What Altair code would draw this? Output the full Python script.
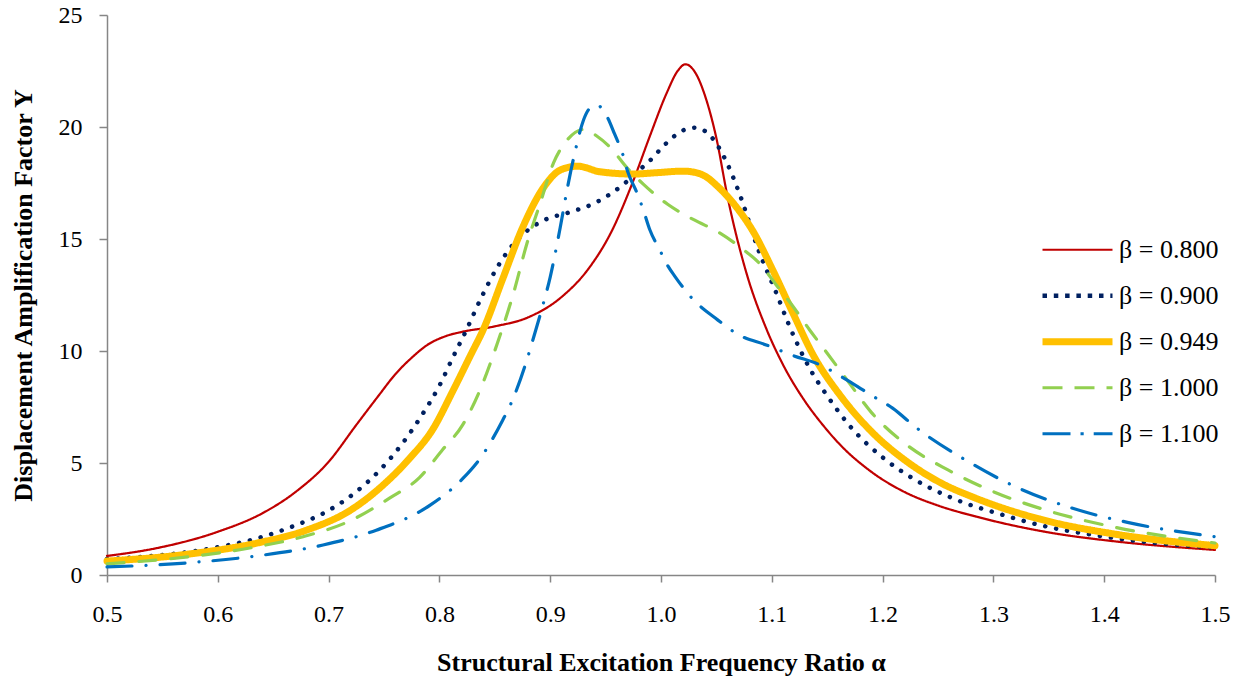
import altair as alt
import pandas as pd

series_names = ["β = 0.800", "β = 0.900", "β = 0.949", "β = 1.000", "β = 1.100"]
colors = ["#C00000", "#002060", "#FFC000", "#92D050", "#0070C0"]
line_widths = [2.2, 4.5, 7, 3.2, 3.2]
line_dashes = [[1, 0], [0.1, 11], [1, 0], [17, 15], [25, 14, 0.1, 14]]
legend_dashes = [[1, 0], [4.5, 6.8], [1, 0], [20, 12], [28, 10, 3.2, 10]]

x_r = [0.50, 0.545, 0.60, 0.64, 0.67, 0.70, 0.725, 0.745, 0.76, 0.775, 0.79, 0.805, 0.82, 0.85, 0.88, 0.91, 0.935, 0.955, 0.975, 0.99, 1.005, 1.015, 1.022, 1.03, 1.041, 1.05, 1.06, 1.077, 1.095, 1.11, 1.13, 1.146, 1.16, 1.19, 1.22, 1.25, 1.285, 1.35, 1.41, 1.5]
y_r = [0.85, 1.2, 1.93, 2.75, 3.7, 5.05, 6.7, 8.0, 8.95, 9.7, 10.3, 10.65, 10.85, 11.1, 11.5, 12.4, 13.7, 15.3, 17.6, 19.6, 21.5, 22.5, 22.8, 22.5, 21.2, 19.5, 16.9, 13.5, 11.0, 9.4, 7.75, 6.7, 5.9, 4.6, 3.7, 3.1, 2.6, 1.9, 1.5, 1.12]

x_n = [0.50, 0.575, 0.605, 0.636, 0.667, 0.697, 0.723, 0.747, 0.767, 0.785, 0.80, 0.812, 0.824, 0.838, 0.853, 0.865, 0.88, 0.895, 0.918, 0.94, 0.957, 0.97, 0.981, 0.99, 1.004, 1.02, 1.031, 1.048, 1.059, 1.071, 1.088, 1.104, 1.116, 1.134, 1.152, 1.171, 1.2, 1.228, 1.265, 1.306, 1.348, 1.39, 1.44, 1.5]
y_n = [0.71, 1.04, 1.29, 1.64, 2.16, 2.8, 3.64, 4.72, 5.9, 7.2, 8.45, 9.7, 10.9, 12.4, 13.8, 14.66, 15.4, 15.85, 16.2, 16.6, 17.1, 17.6, 18.1, 18.5, 19.24, 19.85, 19.97, 19.4, 18.45, 17.0, 14.5, 12.6, 11.1, 9.24, 7.86, 6.62, 5.25, 4.29, 3.39, 2.72, 2.16, 1.79, 1.46, 1.22]

x_y = [0.50, 0.575, 0.635, 0.68, 0.72, 0.75, 0.773, 0.794, 0.812, 0.828, 0.84, 0.857, 0.875, 0.894, 0.91, 0.925, 0.945, 0.975, 0.996, 1.02, 1.03, 1.04, 1.05, 1.06, 1.07, 1.083, 1.101, 1.119, 1.137, 1.162, 1.19, 1.222, 1.253, 1.284, 1.347, 1.409, 1.5]
y_y = [0.62, 0.94, 1.42, 2.0, 2.9, 4.05, 5.2, 6.5, 8.2, 9.8, 11.0, 13.2, 15.5, 17.3, 18.1, 18.25, 18.0, 17.9, 17.96, 18.03, 17.98, 17.8, 17.4, 16.9, 16.3, 15.35, 13.6, 11.7, 9.85, 8.0, 6.4, 5.06, 4.1, 3.43, 2.43, 1.83, 1.31]

x_g = [0.50, 0.575, 0.635, 0.677, 0.719, 0.755, 0.782, 0.803, 0.821, 0.837, 0.852, 0.867, 0.879, 0.891, 0.903, 0.915, 0.931, 0.942, 0.954, 0.969, 0.984, 1.006, 1.03, 1.052, 1.071, 1.09, 1.104, 1.119, 1.134, 1.15, 1.168, 1.19, 1.222, 1.259, 1.3, 1.347, 1.409, 1.5]
y_g = [0.5, 0.82, 1.26, 1.71, 2.41, 3.43, 4.35, 5.6, 6.7, 8.3, 10.3, 12.6, 14.8, 16.6, 18.4, 19.4, 19.9, 19.6, 19.1, 18.2, 17.45, 16.55, 15.85, 15.3, 14.65, 13.85, 12.95, 12.0, 10.95, 9.9, 8.7, 7.25, 5.8, 4.69, 3.72, 2.9, 2.14, 1.43]

x_b = [0.50, 0.575, 0.641, 0.695, 0.743, 0.792, 0.821, 0.839, 0.857, 0.865, 0.877, 0.885, 0.892, 0.9, 0.909, 0.916, 0.922, 0.93, 0.936, 0.942, 0.952, 0.958, 0.966, 0.97, 0.978, 0.984, 0.99, 0.999, 1.005, 1.013, 1.029, 1.049, 1.071, 1.095, 1.119, 1.144, 1.168, 1.189, 1.209, 1.231, 1.275, 1.32, 1.37, 1.421, 1.5]
y_b = [0.36, 0.55, 0.89, 1.34, 2.0, 3.13, 4.3, 5.36, 6.9, 7.7, 9.3, 10.6, 11.8, 13.3, 15.5, 17.4, 18.8, 20.3, 20.85, 20.98, 20.4, 19.7, 18.7, 18.0, 17.1, 16.3, 15.4, 14.5, 13.9, 13.3, 12.3, 11.47, 10.7, 10.27, 9.8, 9.37, 8.7, 8.05, 7.45, 6.55, 5.13, 3.94, 3.0, 2.35, 1.71]

x_ticks = [0.5, 0.6, 0.7, 0.8, 0.9, 1.0, 1.1, 1.2, 1.3, 1.4, 1.5]
y_ticks = [0, 5, 10, 15, 20, 25]

rows = []
for name, w, d, xs, ys in zip(series_names, line_widths, line_dashes,
                              [x_r, x_n, x_y, x_g, x_b], [y_r, y_n, y_y, y_g, y_b]):
    for a, b in zip(xs, ys):
        rows.append({"series": name, "sw": w, "dash": d, "alpha": a, "Y": b})
df = pd.DataFrame(rows)

serif = "Liberation Serif"


def per_entry(values, default):
    parts = [f"datum.value == '{n}' ? {v}" for n, v in zip(series_names, values)]
    return "(" + " : ".join(parts) + f" : {default})"


width_expr = per_entry(line_widths, 3)
dash_expr = per_entry([str(d) for d in legend_dashes], "[1, 0]")

legend = alt.Legend(title=None, orient="none", legendX=934, legendY=212,
                    symbolType="stroke", symbolSize=4900,
                    symbolStrokeWidth=alt.ExprRef(width_expr),
                    symbolDash=alt.ExprRef(dash_expr),
                    labelFont=serif, labelFontSize=26, labelColor="black",
                    clipHeight=45.5, rowPadding=0, labelOffset=5)

chart = alt.Chart(df).mark_line(interpolate="monotone", strokeCap="round", strokeJoin="round").encode(
    x=alt.X("alpha:Q", scale=alt.Scale(domain=[0.5, 1.5], nice=False, zero=False),
            axis=alt.Axis(values=x_ticks, format=".1f", title="Structural Excitation Frequency Ratio α",
                          grid=False, tickSize=7, labelPadding=20, titlePadding=23, labelFlush=False)),
    y=alt.Y("Y:Q", scale=alt.Scale(domain=[0, 25], nice=False),
            axis=alt.Axis(values=y_ticks, format="d", title="Displacement Amplification Factor Y",
                          grid=False, tickSize=8, labelPadding=17, titlePadding=22, labelFlush=False)),
    color=alt.Color("series:N", scale=alt.Scale(domain=series_names, range=colors), legend=legend),
    strokeDash=alt.StrokeDash("dash:N", scale=None, legend=None),
    strokeWidth=alt.StrokeWidth("sw:Q", scale=None, legend=None),
    detail="series:N",
).properties(
    width=1108, height=560,
    autosize=alt.AutoSizeParams(type="none"),
    padding={"left": 107, "top": 15, "right": 26, "bottom": 105},
    background="white",
).configure_view(stroke=None).configure_axis(
    domainColor="#868686", tickColor="#868686", domainWidth=1.5, tickWidth=1.5,
    labelFont=serif, labelFontSize=24, labelColor="black",
    titleFont=serif, titleFontSize=26, titleFontWeight="bold", titleColor="black",
)

chart.save("out.html", embed_options={"renderer": "svg", "actions": False})
